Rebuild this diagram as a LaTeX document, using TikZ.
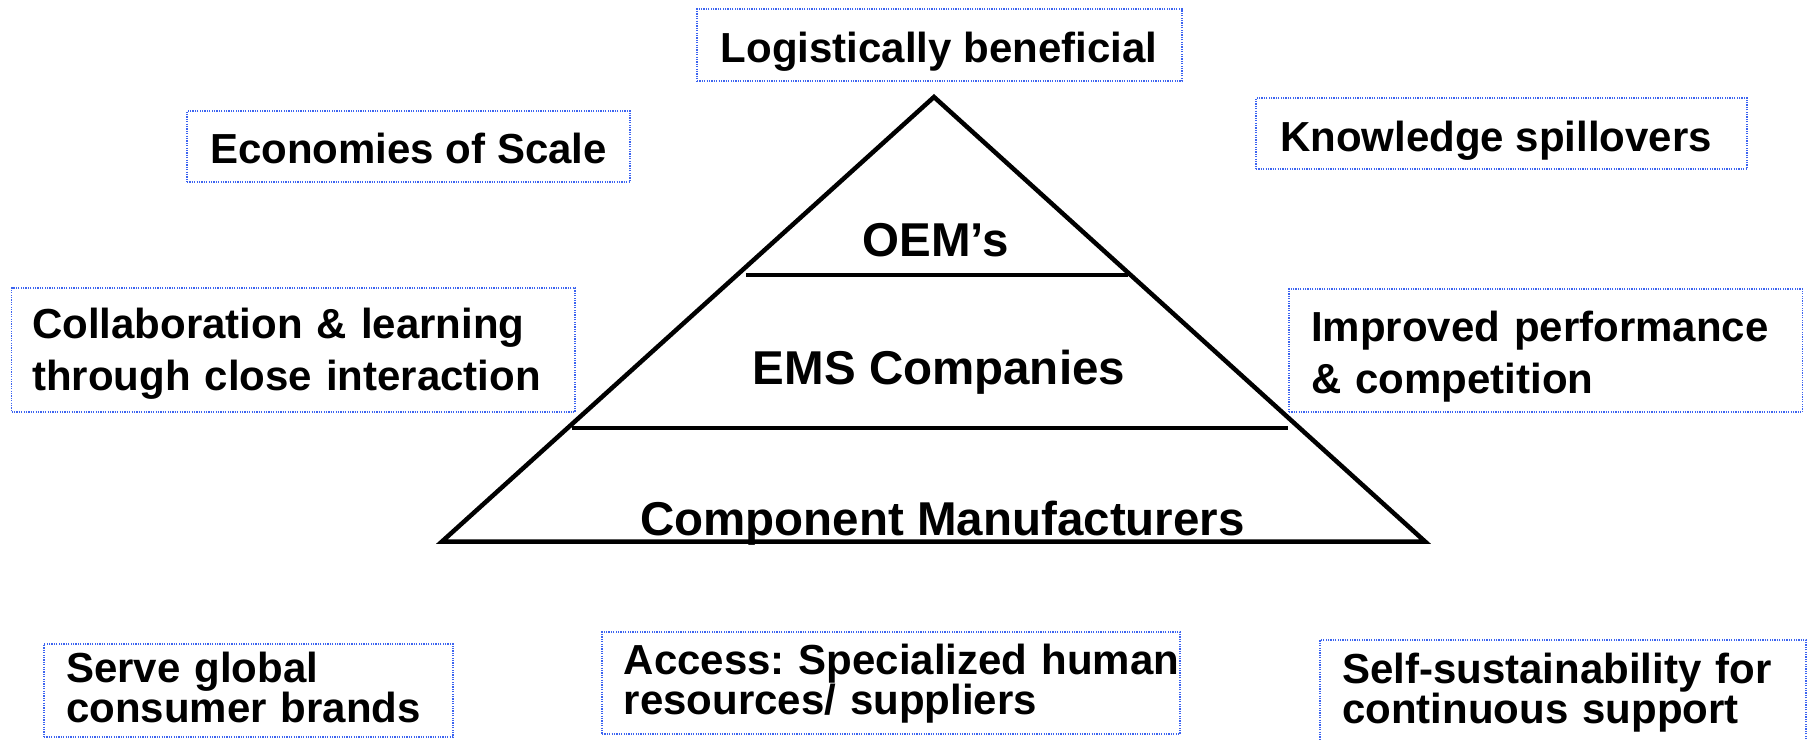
\documentclass[tikz,border=0pt]{standalone}
\usepackage{fontspec}
\setmainfont{Liberation Sans}
\definecolor{dotblue}{RGB}{60,100,240}
\frenchspacing
\begin{document}
\begin{tikzpicture}[x=1pt,y=-1pt,
  box/.style={draw=dotblue, line width=1.8pt, dash pattern=on 1.2pt off 1.2pt, inner sep=0pt, minimum width=#1},
  boxtext/.style={font=\fontsize{42}{52}\selectfont\bfseries, inner sep=0pt},
  boxpara/.style={boxtext, text width=#1, align=left, anchor=base west},
  lowpara/.style={boxpara=#1, font=\fontsize{42}{39}\selectfont\bfseries},
  tier/.style={font=\fontsize{47.5}{57}\selectfont\bfseries, inner sep=0pt, anchor=base},
  pyr/.style={line width=4.5pt, line join=miter}]
\clip (0,0) rectangle (1807,739);
\fill[white] (0,0) rectangle (1807,739);
% pyramid
\coordinate (apex) at (934,97);
\coordinate (bl) at (442,541.5);
\coordinate (br) at (1425,541.5);
\coordinate (l1a) at (746,275);
\coordinate (l1b) at (1128,275);
\coordinate (l2a) at (572,428);
\coordinate (l2b) at (1288,428);
\draw[pyr] (apex) -- (bl) -- (br) -- cycle;
\draw[pyr] (l1a) -- (l1b);
\draw[pyr] (l2a) -- (l2b);
\node[tier] (oem) at (935.5,256) {OEM’s};
\node[tier] (ems) at (939,384) {EMS Companies};
\node[tier] (cm) at (942.5,535) {Component Manufacturers};
% boxes
\node[box=485pt, minimum height=72pt] (logb) at (939.5,45) {};
\node[boxtext, anchor=base] (logt) at (939,62) {Logistically beneficial};
\node[box=443pt, minimum height=71pt] (ecob) at (408.5,146.5) {};
\node[boxtext, anchor=base] (ecot) at (408.5,163) {Economies of Scale};
\node[box=491pt, minimum height=71pt] (knob) at (1501.5,133.5) {};
\node[boxtext, anchor=base west] (knot) at (1280,151) {Knowledge spillovers};
\node[box=563.5pt, minimum height=124pt] (colb) at (293.25,350) {};
\node[boxpara=700pt] (colt) at (32,338) {Collaboration \& learning\\through close interaction};
\node[box=513.5pt, minimum height=123pt] (impb) at (1545.75,350.5) {};
\node[boxpara=700pt] (impt) at (1311,341) {Improved performance\\\& competition};
\node[box=409pt, minimum height=93pt] (serb) at (248.5,690.5) {};
\node[lowpara=700pt] (sert) at (66,682) {Serve global\\consumer brands};
\node[box=578pt, minimum height=102pt] (accb) at (891,683) {};
\node[lowpara=700pt] (acct) at (623.5,674) {Access: Specialized human\\resources/ suppliers};
\node[box=486pt, minimum height=110pt] (selb) at (1563,695) {};
\node[lowpara=700pt] (selt) at (1342,683) {Self-sustainability for\\continuous support};
\end{tikzpicture}
\end{document}
